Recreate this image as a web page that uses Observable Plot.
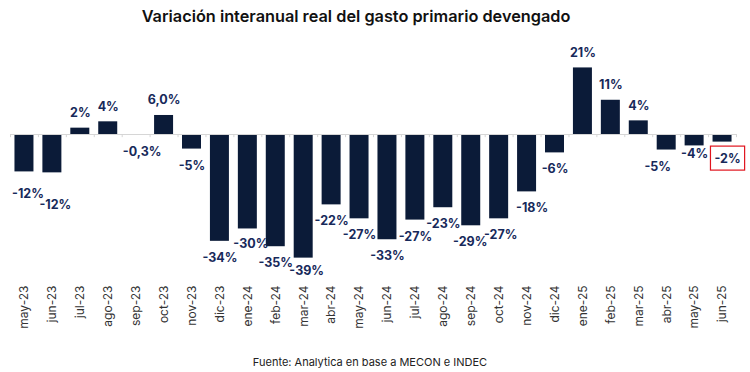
<!DOCTYPE html>
<html>
<head>
<meta charset="utf-8">
<script src="https://cdn.jsdelivr.net/npm/d3@7"></script>
<script src="https://cdn.jsdelivr.net/npm/@observablehq/plot@0.6"></script>
<style>
  html, body { margin: 0; padding: 0; background: #fff; }
  #wrap { width: 750px; height: 372px; position: relative; font-family: Inter, "Open Sans", sans-serif; }
  #title { height: 34px; line-height: 32px; text-align: center; padding-right: 38px; font-size: 16.3px; font-weight: 600; color: #111; }
  #caption { height: 20px; line-height: 20px; margin-top: 8px; text-align: center; padding-right: 10px; font-size: 11px; color: #222; }
  svg { display: block; }
</style>
</head>
<body>
<div id="wrap">
  <div id="title">Variación interanual real del gasto primario devengado</div>
  <div id="chart"></div>
  <div id="caption">Fuente: Analytica en base a MECON e INDEC</div>
</div>
<script>
const months = ["may-23","jun-23","jul-23","ago-23","sep-23","oct-23","nov-23","dic-23","ene-24","feb-24","mar-24","abr-24","may-24","jun-24","jul-24","ago-24","sep-24","oct-24","nov-24","dic-24","ene-25","feb-25","mar-25","abr-25","may-25","jun-25"];
const values = [-11.8,-12.1,2.0,4.0,-0.3,6.0,-4.6,-33.7,-29.8,-35.4,-39.0,-22.2,-26.6,-33.2,-27.0,-23.1,-28.8,-26.6,-18.1,-5.8,21.0,10.8,4.3,-4.9,-3.6,-2.4];
const labels = ["-12%","-12%","2%","4%","-0,3%","6,0%","-5%","-34%","-30%","-35%","-39%","-22%","-27%","-33%","-27%","-23%","-29%","-27%","-18%","-6%","21%","11%","4%","-5%","-4%","-2%"];

const data = months.map((m, i) => ({month: m, value: values[i], label: labels[i]}));

const W = 750, H = 310, ML = 10, MR = 14;
const step = (W - ML - MR) / months.length;
const barColor = "#0b1b38";
const labelColor = "#17295a";

// label placement tweaks (pixels) to follow the reference layout
const nudge = {
  "may-23": [3.5, 5.5], "jun-23": [3, 15.5], "sep-23": [6, 0], "ene-24": [3, -1],
  "mar-24": [3, -4], "sep-24": [-1, 0], "oct-24": [1.5, 0], "nov-24": [5, 0],
  "abr-25": [-9, 0], "may-25": [0, -8], "jun-25": [5, 0]
};

const labelMarks = data.map(d => {
  const [nx, ny] = nudge[d.month] || [0, 0];
  const base = d.value >= 0 ? -15 : 16.5;
  return Plot.text([d], {
    x: "month", y: "value", text: "label",
    dx: nx, dy: base + ny,
    fill: labelColor, fontSize: 12.5, fontWeight: 700
  });
});

const chart = Plot.plot({
  width: W,
  height: H,
  marginLeft: ML,
  marginRight: MR,
  marginTop: 0,
  marginBottom: 62,
  style: {fontFamily: "Inter, 'Open Sans', sans-serif", background: "#fff"},
  x: {type: "band", domain: months, paddingInner: 0.32, paddingOuter: 0.16, round: false, label: null},
  y: {domain: [-39, 21], range: [100 + 3.17 * 39, 100 - 3.17 * 21], axis: null},
  marks: [
    Plot.barY(data, {x: "month", y: "value", fill: barColor}),
    Plot.ruleY([0], {stroke: "#d6d6d6", strokeWidth: 1}),
    Plot.ruleX(months, {x: d => d, dx: -step / 2, y1: 0, y2: -1, stroke: "#d6d6d6"}),
    Plot.ruleX([months[months.length - 1]], {x: d => d, dx: step / 2, y1: 0, y2: -1, stroke: "#d6d6d6"}),
    ...labelMarks,
    Plot.axisX({tickSize: 0, tickPadding: 3, tickRotate: -90, fontSize: 12, fill: "#333", label: null})
  ]
});
document.getElementById("chart").appendChild(chart);

// highlight the last value label with a red box
const texts = Array.from(chart.querySelectorAll('g[aria-label="text"] text')).filter(t => t.textContent === labels[labels.length - 1]);
if (texts.length) {
  const t = texts[texts.length - 1];
  const r = t.getBoundingClientRect();
  const s = chart.getBoundingClientRect();
  d3.select(chart).append("rect")
    .attr("x", r.left - s.left - 4).attr("y", r.top - s.top - 4.5)
    .attr("width", r.width + 8).attr("height", r.height + 9)
    .attr("fill", "none").attr("stroke", "#e0141e").attr("stroke-width", 1.2);
}
</script>
</body>
</html>
